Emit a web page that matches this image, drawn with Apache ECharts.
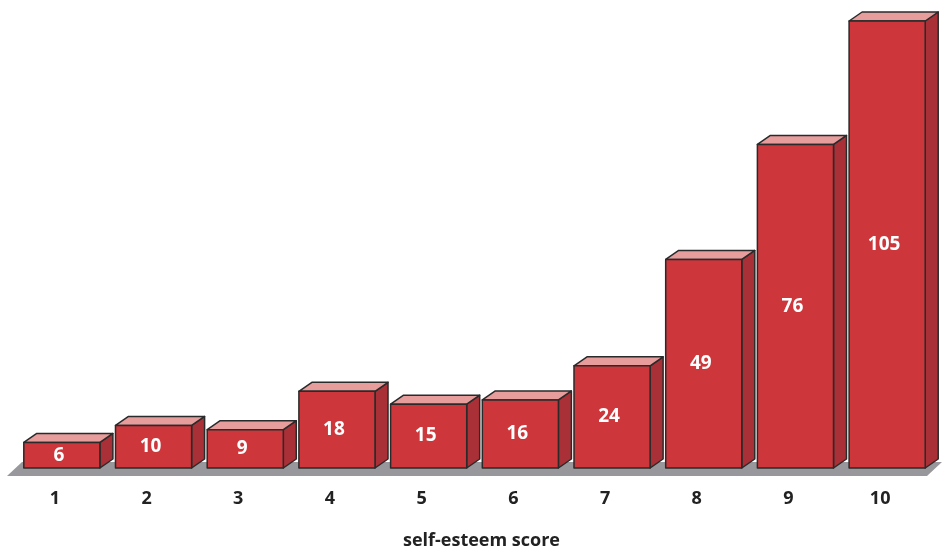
<!DOCTYPE html>
<html>
<head>
<meta charset="utf-8">
<style>
  html, body { margin: 0; padding: 0; background: #ffffff; }
  #chart { width: 942px; height: 548px; }
</style>
<script src="https://cdn.jsdelivr.net/npm/echarts@6/dist/echarts.min.js"></script>
</head>
<body>
<div id="chart"></div>
<script>
// Self-esteem score distribution
const scores = ['1', '2', '3', '4', '5', '6', '7', '8', '9', '10'];
const counts = [6, 10, 9, 18, 15, 16, 24, 49, 76, 105];
const axisTitle = 'self-esteem score';

const FRONT = '#cd373b';
const TOP = '#e89d9d';
const SIDE = '#a93036';
const EDGE = '#2a2a2a';
const FLOOR = '#98989c';
const DEPTH_X = 13;
const DEPTH_Y = 9;
const FONT = '"Open Sans", "DejaVu Sans", sans-serif';

const chart = echarts.init(document.getElementById('chart'), null, { renderer: 'canvas' });

// Grey floor plate under all the boxes
function renderFloor(params, api) {
  const cs = params.coordSys;
  const base = api.coord([0, 0])[1];
  const xl = cs.x - 9;
  const xr = cs.x + cs.width + 9;
  const frontY = base + 8;
  const backY = base - 6;
  const d = 15;
  return {
    type: 'polygon',
    shape: { points: [[xl, frontY], [xl + d, backY], [xr, backY], [xr - d, frontY]] },
    style: { fill: FLOOR },
    z2: 0
  };
}

// One extruded box per score, with its count printed on the front face
function renderBox(params, api) {
  const idx = api.value(0);
  const val = api.value(1);
  const top = api.coord([idx, val]);
  const bottom = api.coord([idx, 0]);
  const w = api.size([1, 0])[0] * 0.83;
  const x0 = top[0] - w / 2;
  const x1 = top[0] + w / 2;
  const y0 = top[1];
  const y1 = bottom[1];
  const lineStyle = { stroke: EDGE, lineWidth: 1.5, lineJoin: 'round' };
  return {
    type: 'group',
    children: [
      {
        type: 'polygon',
        shape: { points: [[x1, y1], [x1 + DEPTH_X, y1 - DEPTH_Y], [x1 + DEPTH_X, y0 - DEPTH_Y], [x1, y0]] },
        style: Object.assign({ fill: SIDE }, lineStyle)
      },
      {
        type: 'polygon',
        shape: { points: [[x0, y0], [x0 + DEPTH_X, y0 - DEPTH_Y], [x1 + DEPTH_X, y0 - DEPTH_Y], [x1, y0]] },
        style: Object.assign({ fill: TOP }, lineStyle)
      },
      {
        type: 'rect',
        shape: { x: x0, y: y0, width: w, height: y1 - y0 },
        style: Object.assign({ fill: FRONT }, lineStyle)
      },
      {
        type: 'text',
        x: (x0 + x1) / 2 - 3,
        y: (y0 + y1) / 2,
        style: {
          text: String(val),
          fill: '#ffffff',
          font: 'bold 19px ' + FONT,
          align: 'center',
          verticalAlign: 'middle'
        }
      }
    ]
  };
}

chart.setOption({
  animation: false,
  grid: { left: 16, right: 9, top: 21, bottom: 80, containLabel: false, outerBoundsMode: 'none' },
  xAxis: {
    type: 'category',
    data: scores,
    axisLine: { show: false },
    axisTick: { show: false },
    axisLabel: {
      margin: 22,
      color: '#222222',
      fontFamily: FONT,
      fontWeight: 'bold',
      fontSize: 18,
      padding: [0, 14, 0, 0]
    },
    name: axisTitle,
    nameLocation: 'middle',
    nameGap: 64,
    nameTextStyle: {
      color: '#222222',
      fontFamily: FONT,
      fontWeight: 'bold',
      fontSize: 18,
      padding: [0, 0, 0, 14]
    }
  },
  yAxis: {
    type: 'value',
    min: 0,
    max: 105,
    show: false,
    splitLine: { show: false }
  },
  series: [
    {
      type: 'custom',
      renderItem: renderFloor,
      data: [[0, 0]],
      z: 1,
      silent: true
    },
    {
      type: 'custom',
      renderItem: renderBox,
      data: counts.map((c, i) => [i, c]),
      encode: { x: 0, y: 1 },
      z: 2
    }
  ]
});
</script>
</body>
</html>
